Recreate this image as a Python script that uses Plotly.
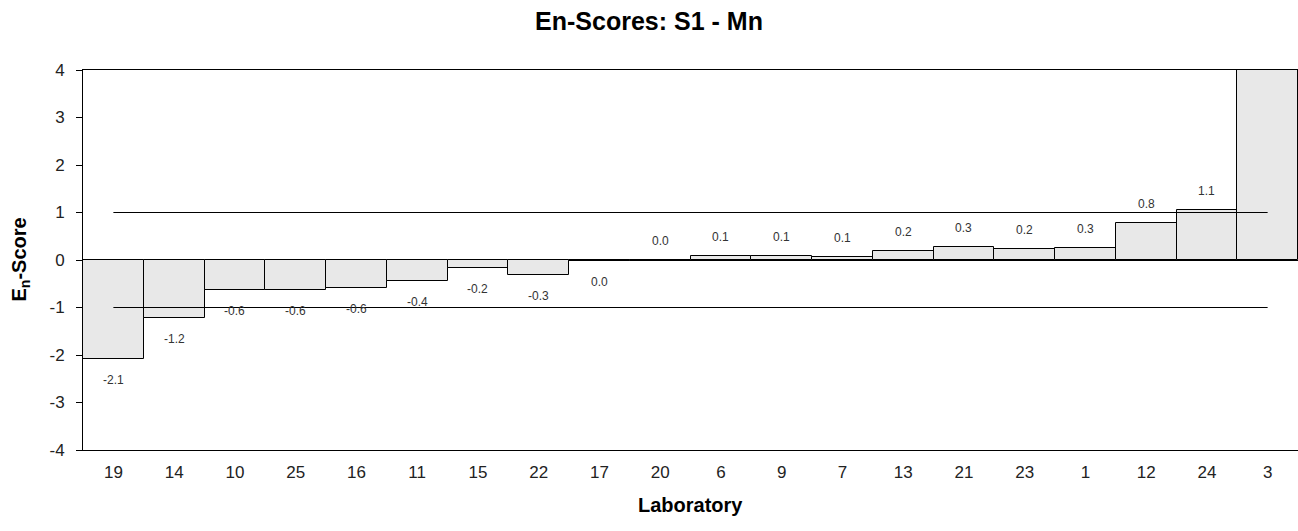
import plotly.graph_objects as go

labs = ["19", "14", "10", "25", "16", "11", "15", "22", "17", "20",
        "6", "9", "7", "13", "21", "23", "1", "12", "24", "3"]
scores = [-2.08, -1.22, -0.63, -0.63, -0.58, -0.44, -0.16, -0.32, -0.02, 0.0,
          0.09, 0.09, 0.06, 0.20, 0.28, 0.23, 0.26, 0.77, 1.06, 5.3]
limits = [1, -1]
y_ticks = [-4, -3, -2, -1, 0, 1, 2, 3, 4]

FONT = "Liberation Sans, Arial, sans-serif"

fig = go.Figure()
fig.add_trace(go.Bar(
    x=labs, y=scores,
    marker=dict(color="#E8E8E8", line=dict(color="#000000", width=1)),
    showlegend=False, hoverinfo="x+y",
))
for lim in limits:
    fig.add_trace(go.Scatter(
        x=[labs[0], labs[-1]], y=[lim, lim], mode="lines",
        line=dict(color="#000000", width=1), showlegend=False, hoverinfo="skip",
    ))

annotations = []
for i, v in enumerate(scores):
    if abs(v) > 4:
        continue
    s = f"{v:.1f}"
    if s == "-0.0":
        s = "0.0"
    annotations.append(dict(
        x=i, y=v, xref="x", yref="y", text=s, showarrow=False,
        yshift=19 if v >= 0 else -21,
        font=dict(family=FONT, size=12, color="#333333"),
    ))

annotations.append(dict(
    text="<b>E<sub>n</sub>-Score</b>", xref="paper", yref="paper",
    x=(19.5 - 83) / 1215, y=0.5, textangle=-90, showarrow=False,
    xanchor="center", yanchor="middle",
    font=dict(family=FONT, size=20, color="#000000"),
))
annotations.append(dict(
    text="<b>Laboratory</b>", xref="paper", yref="paper",
    x=0.5, y=-(505 - 450) / 380, showarrow=False,
    xanchor="center", yanchor="middle",
    font=dict(family=FONT, size=20, color="#000000"),
))

fig.update_layout(
    width=1298, height=531,
    margin=dict(l=83, r=0, t=70, b=81),
    paper_bgcolor="#ffffff", plot_bgcolor="#ffffff",
    bargap=0,
    title=dict(text="<b>En-Scores: S1 - Mn</b>", x=0.5, xanchor="center",
               y=1 - 21 / 531, yref="container", yanchor="middle",
               font=dict(family=FONT, size=25, color="#000000")),
    annotations=annotations,
    font=dict(family=FONT),
)
fig.update_xaxes(
    type="category", range=[-0.5, len(labs) - 0.5],
    showline=True, linecolor="#000000", linewidth=1, mirror=True,
    showgrid=False, ticks="", ticklabelstandoff=7,
    tickfont=dict(family=FONT, size=17, color="#222222"),
    layer="below traces", automargin=False,
)
fig.update_yaxes(
    range=[-4, 4], tickvals=y_ticks, ticktext=[str(t) for t in y_ticks],
    showline=True, linecolor="#000000", linewidth=1,
    showgrid=False, ticks="outside", ticklen=6, tickcolor="#000000",
    zeroline=True, zerolinecolor="#000000", zerolinewidth=1,
    ticklabelstandoff=8,
    tickfont=dict(family=FONT, size=17, color="#222222"),
    layer="below traces", automargin=False,
)

fig.write_html("out.html", config={"displayModeBar": False},
               post_script="document.body.style.margin='0';document.body.style.padding='0';")
